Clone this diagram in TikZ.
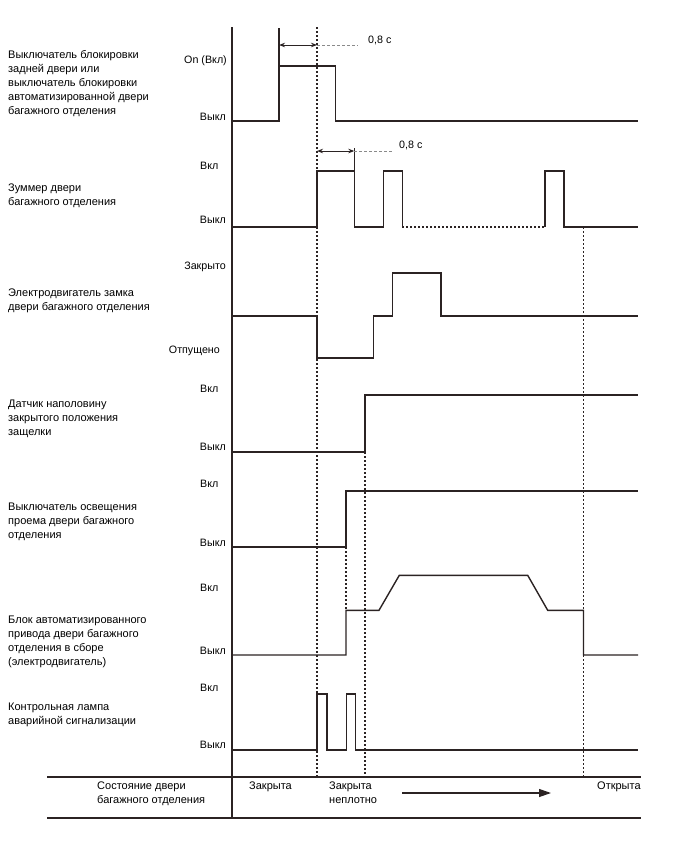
\documentclass[tikz,border=0pt]{standalone}
\usepackage{fontspec}
\setmainfont{Liberation Sans}
\usetikzlibrary{arrows.meta}
\definecolor{ink}{HTML}{2B2323}
\definecolor{leadgray}{HTML}{8A8A8A}
\begin{document}
\begin{tikzpicture}[x=1pt,y=-1pt,
  sig/.style={draw=ink,line width=1.4pt,line join=miter},
  axisline/.style={draw=ink,line width=1.3pt},
  guide/.style={draw=ink,line width=1.1pt,dash pattern=on 2pt off 2pt},
  lead/.style={draw=leadgray,line width=0.9pt,dash pattern=on 3pt off 2pt},
  lbl/.style={font=\fontsize{11}{14}\selectfont,inner sep=0pt,anchor=north west,align=left,text=black},
  lvl/.style={font=\fontsize{10.7}{12}\selectfont,inner sep=0pt,text=black},
  dimarrow/.style={draw=ink,line width=1pt,{Stealth[length=6pt,width=4.5pt]}-{Stealth[length=6pt,width=4.5pt]}},
  flow/.style={draw=ink,line width=1.2pt,-{Triangle[length=12pt,width=8pt]}}
]
\useasboundingbox (0,0) rectangle (688,852);

% ---- axis and bottom table lines
\coordinate (axT) at (232,27);
\coordinate (axB) at (232,818);
\coordinate (h1L) at (47,777);
\coordinate (h1R) at (641,777);
\coordinate (h2L) at (47,818);
\coordinate (h2R) at (641,818);
\draw[axisline] (axT) -- (axB);
\draw[axisline] (h1L) -- (h1R);
\draw[axisline] (h2L) -- (h2R);

% ---- dotted guide lines
\coordinate (g1T) at (317,27);   \coordinate (g1B) at (317,777);
\coordinate (g2T) at (583.5,227);\coordinate (g2B) at (583.5,777);
\coordinate (g3T) at (365,452);  \coordinate (g3B) at (365,777);
\coordinate (g4T) at (346,547);  \coordinate (g4B) at (346,610);
\draw[guide] (g1T) -- (g1B);
\draw[guide] (g2T) -- (g2B);
\draw[guide] (g3T) -- (g3B);
\draw[guide] (g4T) -- (g4B);

% ---- signal 1: lock switch
\draw[sig] (232,121) -- (279,121) -- (279,66) -- (335.7,66) -- (335.7,121) -- (638,121);
\coordinate (e1a) at (279,66); \coordinate (e1b) at (279,28);
\draw[sig] (e1a) -- (e1b);
\coordinate (d1a) at (279,45); \coordinate (d1b) at (317,45); \coordinate (d1c) at (358,45);
\draw[dimarrow] (d1a) -- (d1b);
\draw[lead] (d1b) -- (d1c);
\node[lvl,anchor=west] (t1) at (368,40) {0,8 с};

% ---- signal 2: buzzer
\draw[sig] (232,227) -- (317,227) -- (317,171) -- (354.3,171) -- (354.3,227) -- (383.7,227) -- (383.7,171) -- (402.3,171) -- (402.3,227);
\coordinate (bz1) at (402.3,227); \coordinate (bz2) at (545,227);
\draw[guide] (bz1) -- (bz2);
\draw[sig] (545,227) -- (545,171) -- (564,171) -- (564,227) -- (638,227);
\coordinate (e2a) at (354.3,171); \coordinate (e2b) at (354.3,148);
\draw[sig] (e2a) -- (e2b);
\coordinate (d2a) at (317,151); \coordinate (d2b) at (354.3,151); \coordinate (d2c) at (394,151);
\draw[dimarrow] (d2a) -- (d2b);
\draw[lead] (d2b) -- (d2c);
\node[lvl,anchor=west] (t2) at (399,145) {0,8 с};

% ---- signal 3: lock motor
\draw[sig] (232,316) -- (317,316) -- (317,358) -- (373.3,358) -- (373.3,316) -- (392.7,316) -- (392.7,273) -- (441,273) -- (441,316) -- (638,316);

% ---- signal 4: half-latch sensor
\draw[sig] (232,452) -- (365,452) -- (365,395) -- (638,395);

% ---- signal 5: courtesy switch
\draw[sig] (232,547) -- (346,547) -- (346,491) -- (638,491);

% ---- signal 6: power unit
\draw[sig] (232,655) -- (346,655) -- (346,610.3) -- (379,610.3) -- (399.3,575.3) -- (527.7,575.3) -- (547.7,610.3) -- (583.5,610.3) -- (583.5,655) -- (638,655);

% ---- signal 7: hazard lamp
\draw[sig] (232,750) -- (317,750) -- (317,694) -- (327,694) -- (327,750) -- (346.3,750) -- (346.3,694) -- (355.3,694) -- (355.3,750) -- (638,750);

% ---- level labels
\node[lvl,anchor=east] (l1a) at (227,61) {On (Вкл)};
\node[lvl,anchor=east] (l1b) at (226,117) {Выкл};
\node[lvl,anchor=west] (l2a) at (200,166) {Вкл};
\node[lvl,anchor=east] (l2b) at (226,220) {Выкл};
\node[lvl,anchor=east] (l3a) at (226,267) {Закрыто};
\node[lvl,anchor=east] (l3b) at (220,351) {Отпущено};
\node[lvl,anchor=west] (l4a) at (200,389) {Вкл};
\node[lvl,anchor=east] (l4b) at (226,447) {Выкл};
\node[lvl,anchor=west] (l5a) at (200,484) {Вкл};
\node[lvl,anchor=east] (l5b) at (226,543) {Выкл};
\node[lvl,anchor=west] (l6a) at (200,588) {Вкл};
\node[lvl,anchor=east] (l6b) at (226,651) {Выкл};
\node[lvl,anchor=west] (l7a) at (200,688) {Вкл};
\node[lvl,anchor=east] (l7b) at (226,745) {Выкл};

% ---- signal names
\node[lbl] (n1) at (8,50.2) {Выключатель блокировки\\задней двери или\\выключатель блокировки\\автоматизированной двери\\багажного отделения};
\node[lbl] (n2) at (8,183.2) {Зуммер двери\\багажного отделения};
\node[lbl] (n3) at (8,288.2) {Электродвигатель замка\\двери багажного отделения};
\node[lbl] (n4) at (8,400.2) {Датчик наполовину\\закрытого положения\\защелки};
\node[lbl] (n5) at (8,503.2) {Выключатель освещения\\проема двери багажного\\отделения};
\node[lbl] (n6) at (8,615.8) {Блок автоматизированного\\привода двери багажного\\отделения в сборе\\(электродвигатель)};
\node[lbl] (n7) at (8,703.2) {Контрольная лампа\\аварийной сигнализации};

% ---- bottom row
\node[lbl] (s0) at (97,781.8) {Состояние двери\\багажного отделения};
\node[lbl] (s1) at (249,781.8) {Закрыта};
\node[lbl] (s2) at (329,781.8) {Закрыта\\неплотно};
\node[lbl] (s3) at (597,781.8) {Открыта};
\coordinate (fa) at (402,793); \coordinate (fb) at (551,793);
\draw[flow] (fa) -- (fb);
\end{tikzpicture}
\end{document}
